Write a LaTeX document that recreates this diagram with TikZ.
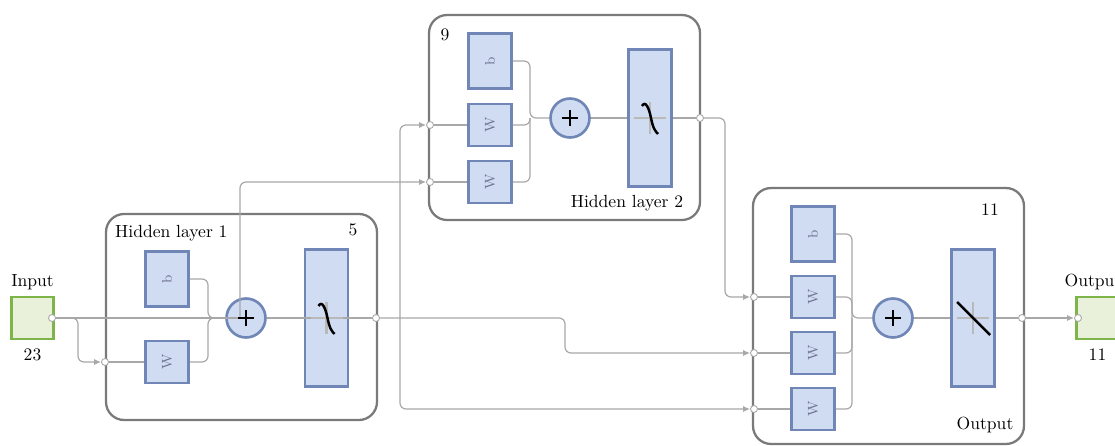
\documentclass[tikz,border=0pt]{standalone}
\usetikzlibrary{arrows.meta,positioning}

\definecolor{cellfill}{HTML}{D0DCF2}
\definecolor{celledge}{HTML}{6F86B6}
\definecolor{iofill}{HTML}{EAF1DA}
\definecolor{ioedge}{HTML}{7DB54A}
\definecolor{framegray}{HTML}{7A7A7A}
\definecolor{wiregray}{HTML}{A8A8A8}
\definecolor{glyphgray}{HTML}{6F7490}

\tikzset{
  layerframe/.style={draw=framegray, line width=1.3pt, rounded corners=0.36cm, minimum width=5.42cm, inner sep=0pt},
  wcell/.style={draw=celledge, fill=cellfill, line width=1.5pt, minimum width=0.86cm, minimum height=0.84cm, inner sep=0pt, font=\footnotesize, text=glyphgray},
  bcell/.style={wcell, minimum height=1.1cm},
  tfcell/.style={wcell, minimum height=2.74cm},
  sumcell/.style={circle, draw=celledge, fill=cellfill, line width=1.5pt, minimum size=0.78cm, inner sep=0pt},
  iobox/.style={draw=ioedge, fill=iofill, line width=1.6pt, minimum size=0.84cm, inner sep=0pt},
  port/.style={circle, draw=wiregray, fill=white, line width=0.5pt, minimum size=0.14cm, inner sep=0pt},
  wire/.style={draw=wiregray, line width=0.7pt, rounded corners=0.12cm},
  feed/.style={wire, -{Latex[length=4pt,width=3.5pt]}},
  axisline/.style={draw=gray!55, line width=1.3pt},
  curveline/.style={draw=black, line width=1.4pt},
}

\begin{document}
\begin{tikzpicture}[x=0.02cm,y=-0.02cm]
\useasboundingbox (0,0) rectangle (1115,446);

%FRAMES
\node[layerframe, minimum height=4.12cm] (hid1) at (241.5,317) {};
\node[layerframe, minimum height=4.1cm] (hid2) at (564.5,117.5) {};
\node[layerframe, minimum height=5.12cm] (outl) at (888.5,316) {};

%TERMINALS
\node[iobox] (in) at (32.5,318) {};
\node[iobox] (out) at (1097.5,318) {};
\node (inname) at (32.5,282) {Input};
\node (insize) at (32.5,355) {23};
\node (outname) at (1093,282) {Output};
\node (outsize) at (1097.5,355) {11};

%LAYER 1
\node[anchor=west] (hid1name) at (109,233) {Hidden layer 1};
\node (hid1size) at (353,230) {5};
\node[bcell] (b1) at (167,279) {\rotatebox{90}{b}};
\node[wcell] (w1) at (167,362) {\rotatebox{90}{W}};
\node[sumcell] (sum1) at (246,318) {};
\node[tfcell] (tf1) at (326.5,318) {};

%LAYER 2
\node (hid2size) at (445,35) {9};
\node (hid2name) at (627,203) {Hidden layer 2};
\node[bcell] (b2) at (490,61) {\rotatebox{90}{b}};
\node[wcell] (w21) at (490,125) {\rotatebox{90}{W}};
\node[wcell] (w22) at (490,182) {\rotatebox{90}{W}};
\node[sumcell] (sum2) at (570,118) {};
\node[tfcell] (tf2) at (650,118) {};

%OUTPUT LAYER
\node (outlsize) at (990,210) {11};
\node (outlname) at (985,425) {Output};
\node[bcell] (b3) at (813,234) {\rotatebox{90}{b}};
\node[wcell] (w31) at (813,297) {\rotatebox{90}{W}};
\node[wcell] (w32) at (813,353) {\rotatebox{90}{W}};
\node[wcell] (w33) at (813,409) {\rotatebox{90}{W}};
\node[sumcell] (sum3) at (893,318) {};
\node[tfcell] (tf3) at (973,318) {};

%PORTS
\node[port] (pin) at (52,318) {};
\node[port] (p1in) at (105,362) {};
\node[port] (p1out) at (376,318) {};
\node[port] (p2a) at (430,125) {};
\node[port] (p2b) at (430,182) {};
\node[port] (p2out) at (700,118) {};
\node[port] (p3a) at (754,297) {};
\node[port] (p3b) at (754,353) {};
\node[port] (p3c) at (754,409) {};
\node[port] (p3out) at (1022,318) {};
\node[port] (pout) at (1078,318) {};

%BENDS
\coordinate (k0) at (78,318);
\coordinate (k1) at (240,318);
\coordinate (k2) at (400,318);
\coordinate (k3) at (565,318);
\coordinate (k4) at (725,118);
\coordinate (j1) at (208,318);
\coordinate (j2) at (530,118);
\coordinate (j3) at (852,318);

%WIRES
% input
\draw[wire] (pin.east) -- (k1);
\draw[feed] (pin.east) -- (k0) |- (p1in.west);
\draw[feed] (k1) |- (p2b.west);
% layer 1
\draw[wire] (p1in.east) -- (w1.west);
\draw[wire] (b1.east) -| (j1) -- (sum1.west);
\draw[wire] (w1.east) -| (j1) -- (sum1.west);
\draw[wire] (sum1.east) -- (p1out.west);
\draw[feed] (p1out.east) -- (k3) |- (p3b.west);
\draw[feed] (k2) |- (p2a.west);
\draw[feed] (k2) |- (p3c.west);
% layer 2
\draw[wire] (p2a.east) -- (w21.west);
\draw[wire] (p2b.east) -- (w22.west);
\draw[wire] (b2.east) -| (j2) -- (sum2.west);
\draw[wire] (w21.east) -| (j2);
\draw[wire] (w22.east) -| (j2);
\draw[wire] (sum2.east) -- (tf2.west);
\draw[wire] (tf2.east) -- (p2out.west);
\draw[feed] (p2out.east) -- (k4) |- (p3a.west);
% output layer
\draw[wire] (p3a.east) -- (w31.west);
\draw[wire] (p3b.east) -- (w32.west);
\draw[wire] (p3c.east) -- (w33.west);
\draw[wire] (b3.east) -| (j3) -- (sum3.west);
\draw[wire] (w31.east) -| (j3);
\draw[wire] (w32.east) -| (j3);
\draw[wire] (w33.east) -| (j3);
\draw[wire] (sum3.east) -- (tf3.west);
\draw[wire] (tf3.east) -- (p3out.west);
\draw[feed] (p3out.east) -- (pout.west);

%ICONS
\foreach \s in {sum1,sum2,sum3}
  \draw[curveline, line width=1.2pt] ([xshift=-0.16cm]\s.center) -- ([xshift=0.16cm]\s.center)
    ([yshift=-0.16cm]\s.center) -- ([yshift=0.16cm]\s.center);
\foreach \t in {tf1,tf2,tf3}
  \draw[axisline] ([xshift=-0.32cm]\t.center) -- ([xshift=0.32cm]\t.center)
    ([yshift=-0.32cm]\t.center) -- ([yshift=0.32cm]\t.center);
\foreach \t in {tf1,tf2} {
  \begin{scope}[shift={(\t.center)}]
    \draw[curveline] (-0.16cm,0.24cm) .. controls (-0.09cm,0.36cm) and (-0.02cm,0.2cm) .. (0.02cm,0cm)
      .. controls (0.06cm,-0.2cm) and (0.1cm,-0.26cm) .. (0.16cm,-0.32cm);
  \end{scope}
}
\draw[curveline] ([shift={(-0.32cm,0.32cm)}]tf3.center) -- ([shift={(0.34cm,-0.34cm)}]tf3.center);

\end{tikzpicture}
\end{document}
